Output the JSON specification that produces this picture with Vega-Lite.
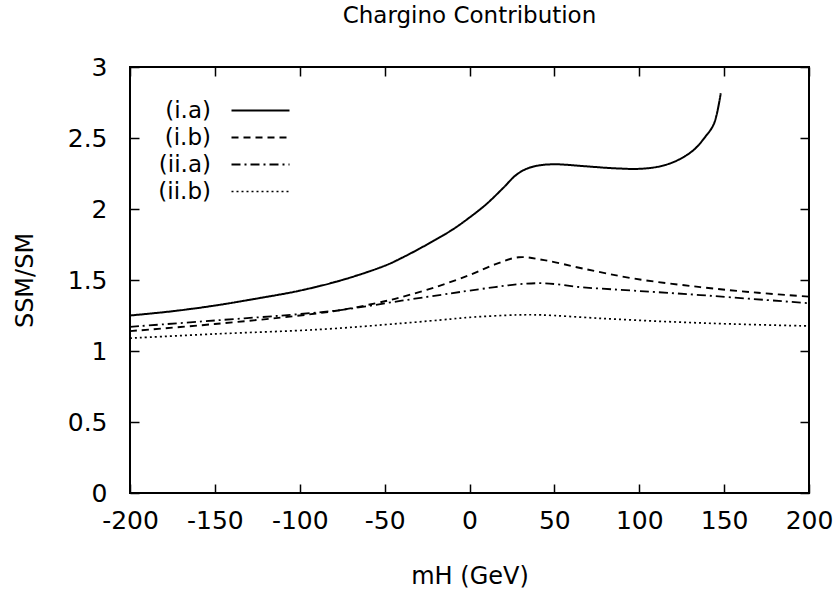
{
  "$schema": "https://vega.github.io/schema/vega-lite/v6.json",
  "width": 679,
  "height": 426,
  "autosize": "none",
  "padding": {"left": 130, "top": 67, "right": 28, "bottom": 102},
  "background": "white",
  "title": {
    "text": "Chargino Contribution",
    "font": "DejaVu Sans",
    "fontSize": 23,
    "fontWeight": "normal",
    "color": "black",
    "anchor": "middle",
    "baseline": "alphabetic",
    "offset": 9
  },
  "config": {
    "view": {"stroke": "black", "strokeWidth": 2},
    "axis": {
      "labelFont": "DejaVu Sans",
      "titleFont": "DejaVu Sans",
      "labelColor": "black",
      "titleColor": "black",
      "grid": false,
      "domain": false,
      "tickColor": "black",
      "tickWidth": 1.5
    }
  },
  "datasets": {
    "curves": [
      {"mH": -200, "r": 1.25, "s": "(i.a)"},
      {"mH": -175, "r": 1.28, "s": "(i.a)"},
      {"mH": -150, "r": 1.32, "s": "(i.a)"},
      {"mH": -125, "r": 1.37, "s": "(i.a)"},
      {"mH": -100, "r": 1.425, "s": "(i.a)"},
      {"mH": -75, "r": 1.5, "s": "(i.a)"},
      {"mH": -50, "r": 1.6, "s": "(i.a)"},
      {"mH": -40, "r": 1.655, "s": "(i.a)"},
      {"mH": -25, "r": 1.75, "s": "(i.a)"},
      {"mH": -10, "r": 1.855, "s": "(i.a)"},
      {"mH": 0, "r": 1.94, "s": "(i.a)"},
      {"mH": 10, "r": 2.035, "s": "(i.a)"},
      {"mH": 20, "r": 2.15, "s": "(i.a)"},
      {"mH": 27, "r": 2.235, "s": "(i.a)"},
      {"mH": 33, "r": 2.28, "s": "(i.a)"},
      {"mH": 40, "r": 2.305, "s": "(i.a)"},
      {"mH": 50, "r": 2.315, "s": "(i.a)"},
      {"mH": 67, "r": 2.302, "s": "(i.a)"},
      {"mH": 85, "r": 2.287, "s": "(i.a)"},
      {"mH": 100, "r": 2.283, "s": "(i.a)"},
      {"mH": 112, "r": 2.3, "s": "(i.a)"},
      {"mH": 122, "r": 2.34, "s": "(i.a)"},
      {"mH": 132, "r": 2.415, "s": "(i.a)"},
      {"mH": 139, "r": 2.51, "s": "(i.a)"},
      {"mH": 144, "r": 2.6, "s": "(i.a)"},
      {"mH": 148, "r": 2.815, "s": "(i.a)"},

      {"mH": -200, "r": 1.14, "s": "(i.b)"},
      {"mH": -150, "r": 1.19, "s": "(i.b)"},
      {"mH": -100, "r": 1.25, "s": "(i.b)"},
      {"mH": -75, "r": 1.29, "s": "(i.b)"},
      {"mH": -50, "r": 1.35, "s": "(i.b)"},
      {"mH": -40, "r": 1.38, "s": "(i.b)"},
      {"mH": -20, "r": 1.45, "s": "(i.b)"},
      {"mH": 0, "r": 1.535, "s": "(i.b)"},
      {"mH": 15, "r": 1.61, "s": "(i.b)"},
      {"mH": 29, "r": 1.66, "s": "(i.b)"},
      {"mH": 44, "r": 1.64, "s": "(i.b)"},
      {"mH": 67, "r": 1.58, "s": "(i.b)"},
      {"mH": 97, "r": 1.51, "s": "(i.b)"},
      {"mH": 136, "r": 1.45, "s": "(i.b)"},
      {"mH": 170, "r": 1.41, "s": "(i.b)"},
      {"mH": 200, "r": 1.383, "s": "(i.b)"},

      {"mH": -200, "r": 1.17, "s": "(ii.a)"},
      {"mH": -150, "r": 1.215, "s": "(ii.a)"},
      {"mH": -100, "r": 1.26, "s": "(ii.a)"},
      {"mH": -75, "r": 1.29, "s": "(ii.a)"},
      {"mH": -40, "r": 1.354, "s": "(ii.a)"},
      {"mH": -11, "r": 1.406, "s": "(ii.a)"},
      {"mH": 0, "r": 1.425, "s": "(ii.a)"},
      {"mH": 15, "r": 1.45, "s": "(ii.a)"},
      {"mH": 29, "r": 1.47, "s": "(ii.a)"},
      {"mH": 44, "r": 1.477, "s": "(ii.a)"},
      {"mH": 67, "r": 1.448, "s": "(ii.a)"},
      {"mH": 97, "r": 1.425, "s": "(ii.a)"},
      {"mH": 136, "r": 1.394, "s": "(ii.a)"},
      {"mH": 200, "r": 1.336, "s": "(ii.a)"},

      {"mH": -200, "r": 1.09, "s": "(ii.b)"},
      {"mH": -150, "r": 1.12, "s": "(ii.b)"},
      {"mH": -88, "r": 1.152, "s": "(ii.b)"},
      {"mH": -40, "r": 1.195, "s": "(ii.b)"},
      {"mH": -11, "r": 1.225, "s": "(ii.b)"},
      {"mH": 0, "r": 1.237, "s": "(ii.b)"},
      {"mH": 28, "r": 1.254, "s": "(ii.b)"},
      {"mH": 42, "r": 1.254, "s": "(ii.b)"},
      {"mH": 77, "r": 1.23, "s": "(ii.b)"},
      {"mH": 116, "r": 1.207, "s": "(ii.b)"},
      {"mH": 155, "r": 1.19, "s": "(ii.b)"},
      {"mH": 200, "r": 1.176, "s": "(ii.b)"}
    ]
  },
  "resolve": {"axis": {"x": "independent", "y": "independent"}},
  "layer": [
    {
      "data": {"name": "curves"},
      "mark": {"type": "line", "color": "black", "interpolate": "catmull-rom", "clip": true},
      "encoding": {
        "x": {
          "field": "mH",
          "type": "quantitative",
          "scale": {"domain": [-200, 200], "nice": false, "zero": false},
          "axis": {
            "orient": "bottom",
            "title": "mH (GeV)",
            "titleFontSize": 24,
            "titleFontWeight": "normal",
            "titlePadding": 31,
            "values": [-200, -150, -100, -50, 0, 50, 100, 150, 200],
            "labelExpr": "toString(datum.value)",
            "labelFontSize": 25,
            "tickSize": -9,
            "labelPadding": 24,
            "labelFlush": false
          }
        },
        "y": {
          "field": "r",
          "type": "quantitative",
          "scale": {"domain": [0, 3], "nice": false},
          "axis": {
            "orient": "left",
            "title": "SSM/SM",
            "titleFontSize": 24,
            "titleFontWeight": "normal",
            "titlePadding": 30,
            "values": [0, 0.5, 1, 1.5, 2, 2.5, 3],
            "labelExpr": "toString(datum.value)",
            "labelFontSize": 25,
            "tickSize": -9,
            "labelPadding": 32,
            "labelFlush": false
          }
        },
        "strokeDash": {
          "field": "s",
          "type": "nominal",
          "scale": {
            "domain": ["(i.a)", "(i.b)", "(ii.a)", "(ii.b)"],
            "range": [[1, 0], [7, 5], [9, 4, 2, 4], [2, 3]]
          },
          "legend": {
            "title": null,
            "orient": "none",
            "legendX": 119,
            "legendY": 32,
            "padding": 0,
            "symbolType": "M-2.9,0H2.9",
            "symbolSize": 400,
            "symbolStrokeColor": "black",
            "symbolStrokeWidth": 1.5,
            "labelFont": "DejaVu Sans",
            "labelFontSize": 23,
            "labelColor": "black",
            "labelAlign": "right",
            "labelOffset": -61,
            "rowPadding": 3,
            "labelLimit": 0
          }
        },
        "strokeWidth": {
          "field": "s",
          "type": "nominal",
          "scale": {"domain": ["(i.a)", "(i.b)", "(ii.a)", "(ii.b)"], "range": [2, 1.7, 1.7, 1.5]},
          "legend": null
        }
      }
    },
    {
      "mark": {"type": "rule", "color": "black", "strokeWidth": 1, "strokeDash": [2, 2]},
      "encoding": {
        "x": {
          "datum": 0,
          "type": "quantitative",
          "axis": {
            "orient": "top",
            "title": null,
            "labels": false,
            "values": [-200, -150, -100, -50, 0, 50, 100, 150, 200],
            "tickSize": -9
          }
        },
        "y": {
          "datum": 0,
          "type": "quantitative",
          "axis": {
            "orient": "right",
            "title": null,
            "labels": false,
            "values": [0, 0.5, 1, 1.5, 2, 2.5, 3],
            "tickSize": -9
          }
        },
        "y2": {"datum": 3}
      }
    }
  ]
}
